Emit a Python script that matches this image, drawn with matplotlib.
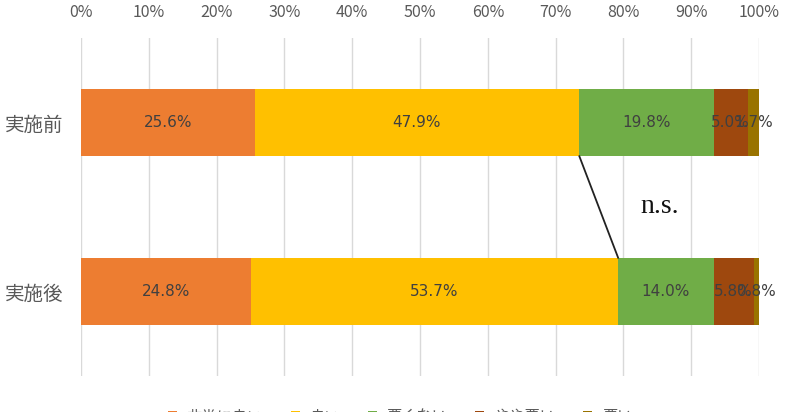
import matplotlib
matplotlib.use("Agg")
import matplotlib.pyplot as plt
import numpy as np

plt.rcParams['font.family'] = ['Noto Sans CJK JP', 'DejaVu Sans']

# データ
groups = ['実施前', '実施後']
categories = ['非常に良い', '良い', '悪くない', 'やや悪い', '悪い']
before = [25.6, 47.9, 19.8, 5.0, 1.7]
after = [24.8, 53.7, 14.0, 5.8, 0.8]
colors = ['#ED7D31', '#FFC000', '#70AD47', '#9E480E', '#997300']

values = np.array([before, after])
# 100%積み上げ (Excel風に正規化)
shares = values / values.sum(axis=1, keepdims=True) * 100

fig = plt.figure(figsize=(7.86, 4.12), dpi=100)
ax = fig.add_axes([0.1031, 0.0874, 0.8626, 0.8204])

ypos = np.arange(len(groups))
left = np.zeros(len(groups))
for i, cat in enumerate(categories):
    ax.barh(ypos, shares[:, i], left=left, height=0.4, color=colors[i],
            label=cat, zorder=2)
    for j in range(len(groups)):
        ax.text(left[j] + shares[j, i] / 2, ypos[j], f'{values[j, i]:.1f}%',
                ha='center', va='center', fontsize=11, color='#404040',
                family=['DejaVu Sans'], zorder=3)
    left = left + shares[:, i]

# 有意差の線 (良い の右端どうしを結ぶ)
ends = shares[:, 0] + shares[:, 1]
ax.plot([ends[0], ends[1]], [ypos[0] + 0.2, ypos[1] - 0.2], color='#222222',
        lw=1.3, zorder=4)
ax.text(85.4, 0.5, 'n.s.', fontsize=20, family=['Liberation Serif'],
        ha='center', va='center', color='#111111')

ax.set_xlim(0, 100)
ax.set_ylim(1.5, -0.5)
ax.set_xticks(np.arange(0, 101, 10))
ax.set_xticklabels([f'{t}%' for t in range(0, 101, 10)])
ax.xaxis.tick_top()
ax.set_yticks(ypos)
ax.set_yticklabels(groups)
ax.tick_params(axis='both', length=0, colors='#595959')
ax.tick_params(axis='x', pad=12, labelsize=11.5)
ax.tick_params(axis='y', pad=13, labelsize=14)
ax.grid(axis='x', color='#D9D9D9', lw=1, zorder=0)
for s in ax.spines.values():
    s.set_visible(False)

fig.legend(loc='upper center', bbox_to_anchor=(0.509, 0.042), ncol=5,
           frameon=False, fontsize=11, handlelength=0.6, handleheight=0.6,
           handletextpad=0.65, columnspacing=1.8, labelcolor='#595959')

fig.savefig('out.png', dpi=100)
